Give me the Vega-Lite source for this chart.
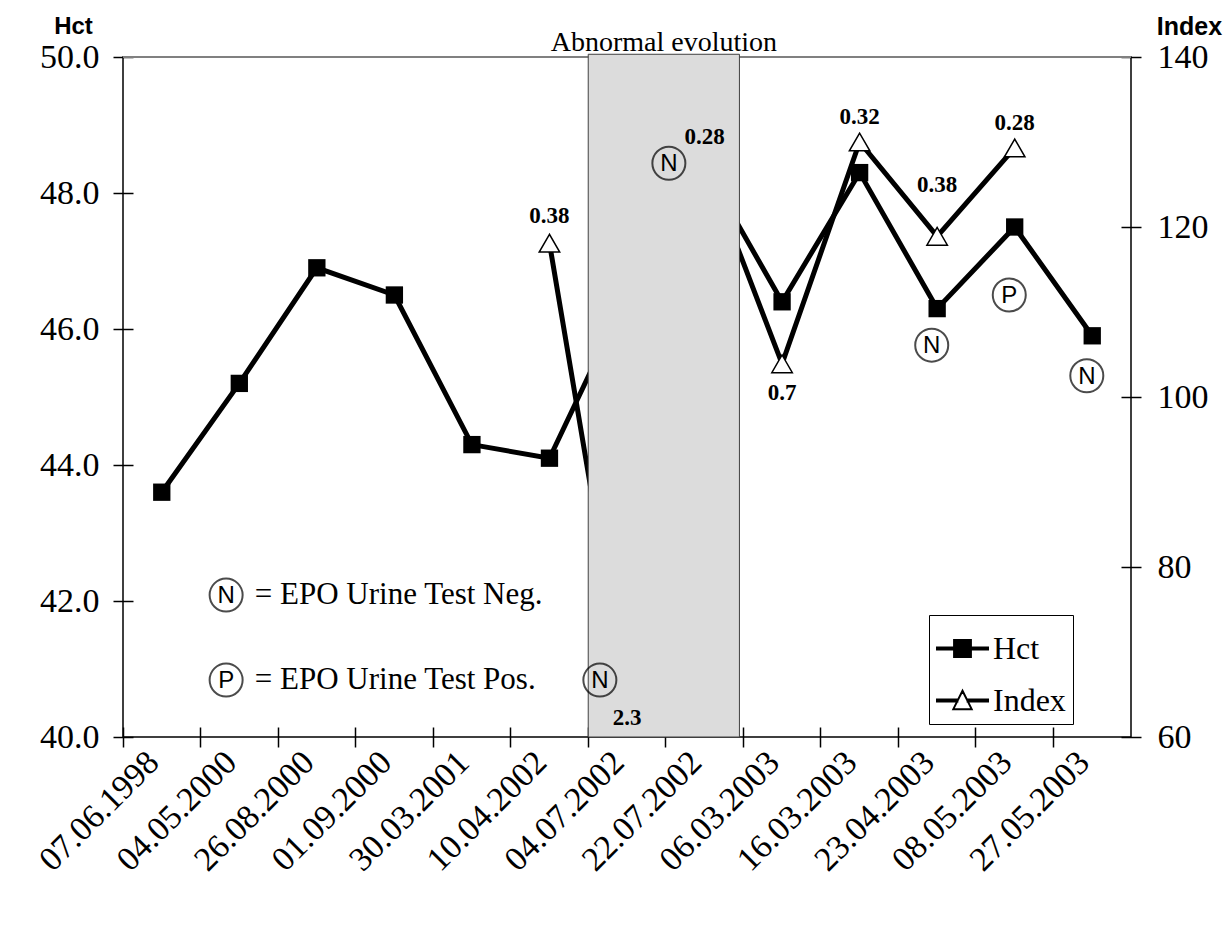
{
  "$schema": "https://vega.github.io/schema/vega-lite/v6.json",
  "width": 1008,
  "height": 680,
  "autosize": {"type": "none"},
  "padding": {"left": 123, "top": 57, "right": 98, "bottom": 192},
  "background": "white",
  "config": {
    "view": {"stroke": "black", "strokeWidth": 1.5},
    "axis": {
      "domain": false, "grid": false, "ticks": true, "tickColor": "black", "tickWidth": 1.5,
      "tickSize": 20, "offset": -10, "labelColor": "black", "labelFont": "Liberation Serif",
      "labelFontSize": 34, "zindex": 1, "titleColor": "black"
    }
  },
  "datasets": {
    "series": [
      {"date": "07.06.1998", "Hct": 43.6, "Index": null},
      {"date": "04.05.2000", "Hct": 45.2, "Index": null},
      {"date": "26.08.2000", "Hct": 46.9, "Index": null},
      {"date": "01.09.2000", "Hct": 46.5, "Index": null},
      {"date": "30.03.2001", "Hct": 44.3, "Index": null},
      {"date": "10.04.2002", "Hct": 44.1, "Index": 118.1},
      {"date": "04.07.2002", "Hct": 46.5, "Index": 64.0},
      {"date": "22.07.2002", "Hct": 48.4, "Index": 127.7},
      {"date": "06.03.2003", "Hct": 46.4, "Index": 103.9},
      {"date": "16.03.2003", "Hct": 48.3, "Index": 130.0},
      {"date": "23.04.2003", "Hct": 46.3, "Index": 118.9},
      {"date": "08.05.2003", "Hct": 47.5, "Index": 129.3},
      {"date": "27.05.2003", "Hct": 45.9, "Index": null}
    ],
    "labels": [
      {"date": "10.04.2002", "text": "0.38", "level": 121.3},
      {"date": "04.07.2002", "text": "2.3", "level": 62.2},
      {"date": "22.07.2002", "text": "0.28", "level": 130.6},
      {"date": "06.03.2003", "text": "0.7", "level": 100.5},
      {"date": "16.03.2003", "text": "0.32", "level": 132.9},
      {"date": "23.04.2003", "text": "0.38", "level": 124.9},
      {"date": "08.05.2003", "text": "0.28", "level": 132.2}
    ],
    "tests": [
      {"date": "04.07.2002", "result": "N", "level": 66.7},
      {"date": "22.07.2002", "result": "N", "level": 127.5},
      {"date": "23.04.2003", "result": "N", "level": 106.1},
      {"date": "08.05.2003", "result": "P", "level": 112.0},
      {"date": "27.05.2003", "result": "N", "level": 102.5}
    ],
    "notes": [
      {"date": "04.05.2000", "result": "N", "level": 76.7, "text": "= EPO Urine Test Neg."},
      {"date": "04.05.2000", "result": "P", "level": 66.7, "text": "= EPO Urine Test Pos."}
    ],
    "period": [
      {"start": 6, "end": 7.95, "center": 6.975, "low": 40, "high": 50.04, "label": "Abnormal evolution"}
    ]
  },
  "layer": [
    {
      "layer": [
        {
          "data": {"name": "series"},
          "mark": {"type": "line", "color": "black", "strokeWidth": 5},
          "encoding": {
            "x": {
              "field": "date", "type": "nominal", "sort": null,
              "scale": {"type": "band", "domain": ["07.06.1998","04.05.2000","26.08.2000","01.09.2000","30.03.2001","10.04.2002","04.07.2002","22.07.2002","06.03.2003","16.03.2003","23.04.2003","08.05.2003","27.05.2003"], "paddingInner": 0, "paddingOuter": 0},
              "axis": {"orient": "bottom", "title": null, "bandPosition": 0, "labelAngle": -45, "labelAlign": "right", "labelBaseline": "top", "labelOffset": -20, "labelPadding": -2, "labelOverlap": false, "labelFlush": false}
            },
            "y": {
              "field": "Hct", "type": "quantitative",
              "scale": {"domain": [40, 50], "zero": false, "nice": false},
              "axis": {"orient": "left", "values": [40, 42, 44, 46, 48, 50], "format": ".1f", "labelPadding": 14,
                "title": "Hct", "titleAngle": 0, "titleFont": "Liberation Sans", "titleFontWeight": "bold", "titleFontSize": 24,
                "titleX": -60, "titleY": -24, "titleAlign": "center", "titleBaseline": "alphabetic"}
            }
          }
        },
        {
          "data": {"name": "series"},
          "mark": {"type": "point", "shape": "square", "filled": true, "color": "black", "size": 300, "opacity": 1},
          "encoding": {
            "x": {"field": "date", "type": "nominal", "sort": null},
            "y": {"field": "Hct", "type": "quantitative"}
          }
        },
        {
          "data": {"values": [{"series": "Hct"}, {"series": "Index"}]},
          "mark": {"type": "point", "filled": true, "opacity": 0, "strokeWidth": 2},
          "encoding": {
            "shape": {
              "field": "series", "type": "nominal",
              "scale": {"domain": ["Hct", "Index"], "range": ["M-1,-0.04H-0.33V-0.33H0.33V-0.04H1V0.04H0.33V0.33H-0.33V0.04H-1Z", "M-1,-0.04H-0.2V0.04H-1Z M0.2,-0.04H1V0.04H0.2Z M0,-0.38L0.36,0.34H-0.36Z"]},
              "legend": {"title": null, "orient": "none", "legendX": 806, "legendY": 558, "padding": 7, "strokeColor": "black", "fillColor": "white",
                "labelFont": "Liberation Serif", "labelFontSize": 32, "labelColor": "black", "labelOffset": 4,
                "symbolSize": 2600, "symbolStrokeWidth": 2, "symbolOpacity": 1, "rowPadding": 9}
            },
            "fill": {
              "field": "series", "type": "nominal",
              "scale": {"domain": ["Hct", "Index"], "range": ["black", "white"]},
              "legend": {"title": null, "orient": "none", "legendX": 806, "legendY": 558, "padding": 7, "strokeColor": "black", "fillColor": "white",
                "labelFont": "Liberation Serif", "labelFontSize": 32, "labelColor": "black", "labelOffset": 4,
                "symbolSize": 2600, "symbolStrokeWidth": 2, "symbolOpacity": 1, "rowPadding": 9}
            },
            "stroke": {
              "field": "series", "type": "nominal",
              "scale": {"domain": ["Hct", "Index"], "range": ["black", "black"]},
              "legend": {"title": null, "orient": "none", "legendX": 806, "legendY": 558, "padding": 7, "strokeColor": "black", "fillColor": "white",
                "labelFont": "Liberation Serif", "labelFontSize": 32, "labelColor": "black", "labelOffset": 4,
                "symbolSize": 2600, "symbolStrokeWidth": 2, "symbolOpacity": 1, "rowPadding": 9}
            }
          }
        }
      ]
    },
    {
      "data": {"name": "series"},
      "encoding": {
        "x": {
          "field": "date", "type": "nominal", "sort": null,
          "scale": {"type": "band", "domain": ["07.06.1998","04.05.2000","26.08.2000","01.09.2000","30.03.2001","10.04.2002","04.07.2002","22.07.2002","06.03.2003","16.03.2003","23.04.2003","08.05.2003","27.05.2003"], "paddingInner": 0, "paddingOuter": 0},
          "axis": null
        },
        "y": {
          "field": "Index", "type": "quantitative",
          "scale": {"domain": [60, 140], "zero": false, "nice": false},
          "axis": {"orient": "right", "values": [60, 80, 100, 120, 140], "format": "d", "labelPadding": 16,
            "title": "Index", "titleAngle": 0, "titleFont": "Liberation Sans", "titleFontWeight": "bold", "titleFontSize": 25,
            "titleX": 68, "titleY": -23, "titleAlign": "center", "titleBaseline": "alphabetic"}
        }
      },
      "layer": [
        {"mark": {"type": "line", "color": "black", "strokeWidth": 5}},
        {"mark": {"type": "point", "shape": "triangle-up", "filled": true, "fill": "white", "stroke": "black", "strokeWidth": 1.5, "size": 420, "opacity": 1}}
      ]
    },
    {
      "data": {"name": "period"},
      "layer": [
        {
          "mark": {"type": "rule", "stroke": "#808080", "strokeWidth": 2},
          "encoding": {
            "x": {"datum": 0, "type": "quantitative", "scale": {"domain": [0, 13], "zero": false, "nice": false}, "axis": null},
            "x2": {"datum": 13},
            "y": {"datum": 50, "type": "quantitative", "scale": {"domain": [40, 50], "zero": false, "nice": false}, "axis": null}
          }
        },
        {
          "mark": {"type": "rect", "fill": "#dcdcdc", "stroke": "#404040", "strokeWidth": 1},
          "encoding": {
            "x": {"field": "start", "type": "quantitative"},
            "x2": {"field": "end"},
            "y": {"field": "low", "type": "quantitative"},
            "y2": {"field": "high"}
          }
        },
        {
          "mark": {"type": "text", "font": "Liberation Serif", "fontSize": 28, "color": "black", "align": "center", "baseline": "alphabetic", "dy": -3},
          "encoding": {
            "x": {"field": "center", "type": "quantitative"},
            "y": {"field": "high", "type": "quantitative"},
            "text": {"field": "label"}
          }
        }
      ]
    },
    {
      "layer": [
        {
          "data": {"name": "labels"},
          "mark": {"type": "text", "font": "Liberation Serif", "fontWeight": "bold", "fontSize": 23, "color": "black", "baseline": "middle", "align": "center"},
          "encoding": {
            "x": {"field": "date", "type": "nominal", "sort": null, "scale": {"type": "band", "domain": ["07.06.1998","04.05.2000","26.08.2000","01.09.2000","30.03.2001","10.04.2002","04.07.2002","22.07.2002","06.03.2003","16.03.2003","23.04.2003","08.05.2003","27.05.2003"], "paddingInner": 0, "paddingOuter": 0}, "axis": null},
            "y": {"field": "level", "type": "quantitative", "scale": {"domain": [60, 140], "zero": false, "nice": false}, "axis": null},
            "text": {"field": "text"}
          }
        },
        {
          "data": {"name": "tests"},
          "transform": [{"filter": {"field": "date", "oneOf": ["23.04.2003", "08.05.2003", "27.05.2003"]}}],
          "encoding": {
            "x": {"field": "date", "type": "nominal", "sort": null, "bandPosition": 0.43},
            "y": {"field": "level", "type": "quantitative"}
          },
          "layer": [
            {"mark": {"type": "point", "shape": "circle", "size": 1090, "filled": false, "stroke": "black", "strokeWidth": 2}},
            {"mark": {"type": "text", "font": "Liberation Sans", "fontSize": 24, "color": "black", "baseline": "middle", "align": "center", "dy": 1}, "encoding": {"text": {"field": "result"}}}
          ]
        },
        {
          "data": {"name": "tests"},
          "transform": [{"filter": {"field": "date", "equal": "04.07.2002"}}],
          "encoding": {
            "x": {"field": "date", "type": "nominal", "sort": null, "bandPosition": 0.15},
            "y": {"field": "level", "type": "quantitative"}
          },
          "layer": [
            {"mark": {"type": "point", "shape": "circle", "size": 1090, "filled": false, "stroke": "black", "strokeWidth": 2}},
            {"mark": {"type": "text", "font": "Liberation Sans", "fontSize": 24, "color": "black", "baseline": "middle", "align": "center", "dy": 1}, "encoding": {"text": {"field": "result"}}}
          ]
        },
        {
          "data": {"name": "tests"},
          "transform": [{"filter": {"field": "date", "equal": "22.07.2002"}}],
          "encoding": {
            "x": {"field": "date", "type": "nominal", "sort": null, "bandPosition": 0.04},
            "y": {"field": "level", "type": "quantitative"}
          },
          "layer": [
            {"mark": {"type": "point", "shape": "circle", "size": 1090, "filled": false, "stroke": "black", "strokeWidth": 2}},
            {"mark": {"type": "text", "font": "Liberation Sans", "fontSize": 24, "color": "black", "baseline": "middle", "align": "center", "dy": 1}, "encoding": {"text": {"field": "result"}}}
          ]
        },
        {
          "data": {"name": "notes"},
          "encoding": {
            "x": {"field": "date", "type": "nominal", "sort": null, "bandPosition": 0.33},
            "y": {"field": "level", "type": "quantitative"}
          },
          "layer": [
            {"mark": {"type": "point", "shape": "circle", "size": 1090, "filled": false, "stroke": "black", "strokeWidth": 2}},
            {"mark": {"type": "text", "font": "Liberation Sans", "fontSize": 24, "color": "black", "baseline": "middle", "align": "center", "dy": 1}, "encoding": {"text": {"field": "result"}}}
          ]
        },
        {
          "data": {"name": "notes"},
          "mark": {"type": "text", "font": "Liberation Serif", "fontSize": 31, "color": "black", "baseline": "middle", "align": "left"},
          "encoding": {
            "x": {"field": "date", "type": "nominal", "sort": null, "bandPosition": 0.7},
            "y": {"field": "level", "type": "quantitative"},
            "text": {"field": "text"}
          }
        }
      ]
    }
  ],
  "resolve": {"scale": {"x": "independent", "y": "independent"}}
}
